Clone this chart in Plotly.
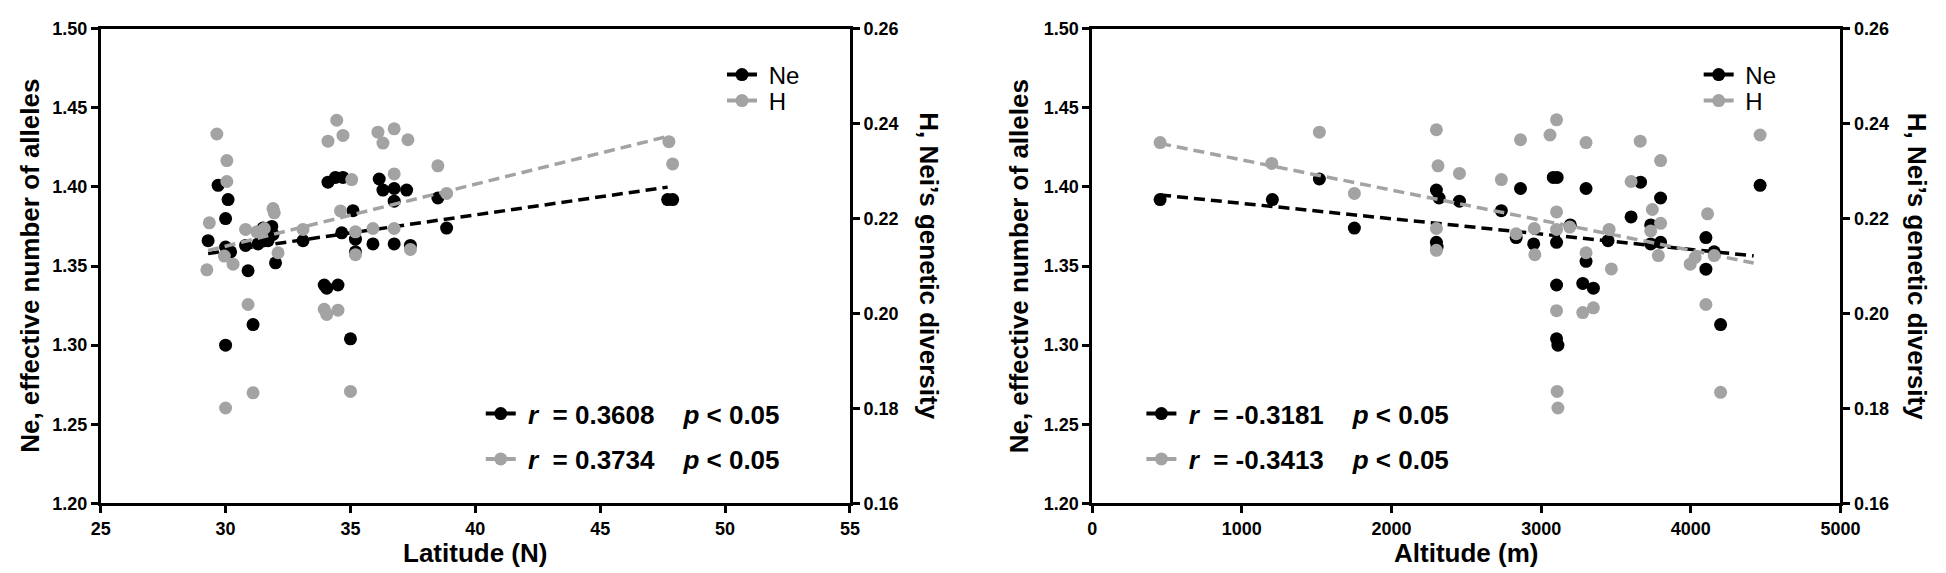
import plotly.graph_objects as go

# ---------------- data ----------------
# Left panel: latitude
lat_ne = [29.3, 29.7, 30.1, 30.0, 30.0, 30.2, 30.0, 30.8, 30.9, 31.1, 31.5, 31.85, 31.9, 31.3, 31.7,
          32.0, 33.1, 34.1, 34.4, 34.7, 35.1, 34.65, 35.2, 35.2, 33.95, 34.05, 34.5, 35.0, 35.9, 36.15,
          36.3, 36.75, 37.25, 36.75, 36.75, 37.4, 38.5, 38.85, 47.7, 47.9]
ne_lat = [1.366, 1.401, 1.392, 1.380, 1.362, 1.359, 1.300, 1.363, 1.347, 1.313, 1.374, 1.375, 1.370,
          1.364, 1.366, 1.352, 1.366, 1.403, 1.406, 1.406, 1.385, 1.371, 1.367, 1.359, 1.338, 1.336,
          1.338, 1.304, 1.364, 1.405, 1.398, 1.399, 1.398, 1.391, 1.364, 1.363, 1.393, 1.374, 1.392, 1.392]
lat_h = [29.65, 30.05, 30.05, 29.35, 29.25, 29.95, 30.3, 30.8, 31.25, 31.55, 31.9, 31.95, 32.1, 30.9,
         31.1, 30.0, 33.1, 34.1, 34.45, 34.7, 35.05, 34.6, 35.2, 35.2, 33.95, 34.05, 34.5, 35.0, 35.9,
         36.1, 36.3, 36.75, 36.75, 36.75, 37.3, 37.4, 38.5, 38.85, 47.75, 47.9]
h_lat = [0.2378, 0.2322, 0.2278, 0.2191, 0.2092, 0.2121, 0.2104, 0.2177, 0.2172, 0.2179, 0.2221, 0.2212,
         0.2128, 0.2019, 0.1833, 0.1801, 0.2177, 0.2363, 0.2407, 0.2375, 0.2282, 0.2216, 0.2172, 0.2124,
         0.2009, 0.1998, 0.2007, 0.1836, 0.2179, 0.2382, 0.2359, 0.2389, 0.2294, 0.2179, 0.2366, 0.2135,
         0.2311, 0.2253, 0.2362, 0.2315]

# Right panel: altitude
alt_ne = [454, 1204, 1518, 1752, 2300, 2318, 2454, 2300, 2305, 2734, 2833, 2862, 2950, 3081, 3107, 3103,
          3103, 3103, 3112, 3195, 3278, 3300, 3300, 3349, 3447, 3601, 3664, 3732, 3732, 3798, 3798, 4101,
          4101, 4156, 4199, 4463]
ne_alt = [1.392, 1.392, 1.405, 1.374, 1.398, 1.393, 1.391, 1.365, 1.362, 1.385, 1.368, 1.399, 1.364,
          1.406, 1.406, 1.365, 1.338, 1.304, 1.300, 1.376, 1.339, 1.399, 1.353, 1.336, 1.366, 1.381,
          1.403, 1.376, 1.364, 1.393, 1.365, 1.368, 1.348, 1.359, 1.313, 1.401]
alt_h = [454, 1200, 1518, 1752, 2300, 2311, 2454, 2300, 2300, 2734, 2833, 2862, 2954, 2958, 3059, 3103,
         3103, 3103, 3103, 3107, 3112, 3191, 3278, 3300, 3300, 3349, 3454, 3469, 3601, 3662, 3732, 3743,
         3783, 3798, 3798, 3996, 4029, 4101, 4112, 4156, 4199, 4463]
h_alt = [0.2360, 0.2316, 0.2382, 0.2253, 0.2387, 0.2311, 0.2295, 0.2179, 0.2133, 0.2282, 0.2168, 0.2366,
         0.2179, 0.2124, 0.2376, 0.2408, 0.2214, 0.2177, 0.2006, 0.1836, 0.1801, 0.2182, 0.2002, 0.2360,
         0.2128, 0.2012, 0.2177, 0.2094, 0.2278, 0.2363, 0.2174, 0.2219, 0.2122, 0.2322, 0.2190, 0.2104,
         0.2118, 0.2019, 0.2210, 0.2122, 0.1834, 0.2376]

# regression lines (slope, intercept) and x extent
lat_fit_range = [29.3, 47.7]
ne_lat_fit = (0.00228, 1.2911)
h_lat_fit = (0.001306, 0.1750)
alt_fit_range = [454, 4420]
ne_alt_fit = (-9.7e-6, 1.3993)
h_alt_fit = (-6.35e-6, 0.2387)

stats_lat = [("0.3608", "0.05"), ("0.3734", "0.05")]
stats_alt = [("-0.3181", "0.05"), ("-0.3413", "0.05")]
series_names = ["Ne", "H"]

# ---------------- styling ----------------
BLACK = "#000000"
GRAY = "#a3a3a3"
W, H = 1946, 573
SANS = "Liberation Sans, Arial, sans-serif"

def px_x(p):
    return p / W

def px_y(p):
    return 1 - p / H

fig = go.Figure()

def fit_vals(rng, coef):
    s, b = coef
    return [s * v + b for v in rng]

def add_panel(xa, ya, ya2, xne, yne, xh, yh, rng, fne, fh):
    fig.add_trace(go.Scatter(x=xne, y=yne, mode="markers", xaxis=xa, yaxis=ya,
                             marker=dict(color=BLACK, size=13, line=dict(width=0)), showlegend=False))
    fig.add_trace(go.Scatter(x=xh, y=yh, mode="markers", xaxis=xa, yaxis=ya2,
                             marker=dict(color=GRAY, size=13, line=dict(width=0)), showlegend=False))
    fig.add_trace(go.Scatter(x=rng, y=fit_vals(rng, fne), mode="lines", xaxis=xa, yaxis=ya,
                             line=dict(color=BLACK, width=3.5, dash="11px,6px"), showlegend=False))
    fig.add_trace(go.Scatter(x=rng, y=fit_vals(rng, fh), mode="lines", xaxis=xa, yaxis=ya2,
                             line=dict(color=GRAY, width=3.5, dash="11px,6px"), showlegend=False))

add_panel("x", "y", "y2", lat_ne, ne_lat, lat_h, h_lat, lat_fit_range, ne_lat_fit, h_lat_fit)
add_panel("x2", "y3", "y4", alt_ne, ne_alt, alt_h, h_alt, alt_fit_range, ne_alt_fit, h_alt_fit)

legfont = dict(family=SANS, size=24, color=BLACK)
statfont = dict(family=SANS, size=26, color=BLACK, weight="bold")

# each legend row is its own legend so rows can be placed like the reference
legend_specs = []  # (legend id, x px, y px, font)
k = 1
def leg_id(n):
    return "legend" if n == 1 else f"legend{n}"

# Ne / H key, both panels
for xa, ya, lx in [("x", "y", 715), ("x2", "y3", 1707)]:
    for name, col, ly in zip(series_names, [BLACK, GRAY], [59, 86]):
        lid = leg_id(k); k += 1
        fig.add_trace(go.Scatter(x=[None], y=[None], mode="lines+markers", xaxis=xa, yaxis=ya,
                                 name="\u00a0" + name, legend=lid,
                                 line=dict(color=col, width=4), marker=dict(color=col, size=13)))
        legend_specs.append((lid, lx, ly, legfont))

# statistics rows
for xa, ya, lx, stats in [("x", "y", 470, stats_lat), ("x2", "y3", 1141, stats_alt)]:
    for (r, p), col, ly in zip(stats, [BLACK, GRAY], [410, 457]):
        lid = leg_id(k); k += 1
        label = ("\u00a0<i>r</i>\u00a0\u00a0=\u00a0" + r + "\u00a0\u00a0\u00a0\u00a0<i>p</i>\u00a0<\u00a0" + p)
        fig.add_trace(go.Scatter(x=[None], y=[None], mode="lines+markers", xaxis=xa, yaxis=ya,
                                 name=label, legend=lid,
                                 line=dict(color=col, width=4), marker=dict(color=col, size=13)))
        legend_specs.append((lid, lx, ly, statfont))

ydom = [px_y(503), px_y(11)]
axis_common = dict(showline=True, linecolor=BLACK, linewidth=2.8, ticks="outside", ticklen=7,
                   tickwidth=2.5, tickcolor=BLACK, showgrid=False, zeroline=False)
xtickfont = dict(family=SANS, size=18, color=BLACK, weight="bold")
ytickfont = dict(family=SANS, size=18, color=BLACK, weight="bold")

fig.update_layout(
    width=W, height=H, margin=dict(l=0, r=0, t=0, b=0),
    paper_bgcolor="white", plot_bgcolor="white",
    xaxis=dict(domain=[px_x(84), px_x(845)], range=[25, 55], dtick=5, anchor="y", mirror=True,
               tickfont=xtickfont, **axis_common),
    yaxis=dict(domain=ydom, range=[1.20, 1.50], dtick=0.05, tickformat=".2f", anchor="x",
               tickfont=ytickfont, **axis_common),
    yaxis2=dict(range=[0.16, 0.26], dtick=0.02, tickformat=".2f", overlaying="y", side="right",
                anchor="x", tickfont=ytickfont, **axis_common),
    xaxis2=dict(domain=[px_x(1091), px_x(1851)], range=[0, 5000], dtick=1000, anchor="y3", mirror=True,
                tickfont=xtickfont, **axis_common),
    yaxis3=dict(domain=ydom, range=[1.20, 1.50], dtick=0.05, tickformat=".2f", anchor="x2",
                tickfont=ytickfont, **axis_common),
    yaxis4=dict(range=[0.16, 0.26], dtick=0.02, tickformat=".2f", overlaying="y3", side="right",
                anchor="x2", tickfont=ytickfont, **axis_common),
)

legend_layout = {}
for lid, lx, ly, f in legend_specs:
    legend_layout[lid] = dict(x=px_x(lx), y=px_y(ly), xanchor="left", yanchor="middle", font=f,
                              bgcolor="rgba(0,0,0,0)", itemwidth=30, borderwidth=0)
fig.update_layout(**legend_layout)

title_font_y = dict(family=SANS, size=26, color=BLACK, weight="bold")
title_font_x = dict(family=SANS, size=26, color=BLACK, weight="bold")
annos = [
    dict(text="Ne, effective number of alleles", x=px_x(12), y=px_y(257), textangle=-90, font=title_font_y),
    dict(text="H, Nei\u2019s genetic diversity", x=px_x(925), y=px_y(257), textangle=90, font=title_font_y),
    dict(text="Ne, effective number of alleles", x=px_x(1017), y=px_y(257), textangle=-90, font=title_font_y),
    dict(text="H, Nei\u2019s genetic diversity", x=px_x(1929), y=px_y(257), textangle=90, font=title_font_y),
    dict(text="Latitude (N)", x=px_x(464), y=px_y(554), font=title_font_x),
    dict(text="Altitude (m)", x=px_x(1471), y=px_y(554), font=title_font_x),
]
for a in annos:
    fig.add_annotation(xref="paper", yref="paper", showarrow=False, xanchor="center", yanchor="middle", **a)

fig.write_html("out.html")
